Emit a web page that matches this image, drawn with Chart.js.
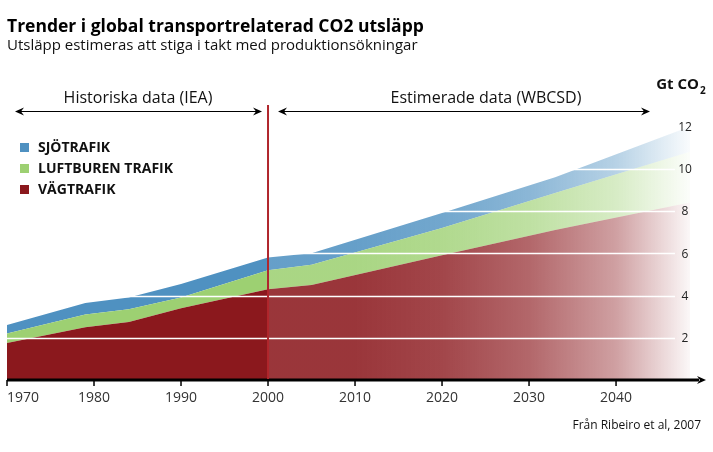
<!DOCTYPE html>
<html>
<head>
<meta charset="utf-8">
<script src="https://cdn.jsdelivr.net/npm/chart.js@4.4.1/dist/chart.umd.min.js"></script>
<style>
  html, body { margin: 0; padding: 0; background: #fff; }
  #wrap { width: 713px; height: 452px; }
</style>
</head>
<body>
<div id="wrap"><canvas id="co2" width="713" height="452"></canvas></div>
<script>
// år (x) och utsläpp per trafikslag, Gt CO2 (staplade)
const years = [1970, 1979, 1984, 1990, 2000, 2005, 2020, 2033, 2048.5];
const vagtrafik = [1.75, 2.5, 2.75, 3.4, 4.3, 4.5, 5.9, 7.1, 8.4];
const luftburen = [0.45, 0.6, 0.6, 0.5, 0.9, 0.95, 1.3, 1.75, 2.4];
const sjotrafik = [0.4, 0.55, 0.55, 0.65, 0.6, 0.55, 0.7, 0.75, 1.2];

const xTicks = [1970, 1980, 1990, 2000, 2010, 2020, 2030, 2040];
const yTicks = [2, 4, 6, 8, 10, 12];
const splitYear = 2000;

const FONT = '"Open Sans", "Noto Sans", sans-serif';

// toning mot vitt efter 2000 (år, alfa)
const fade = [[2000, 0.87], [2010, 0.87], [2020, 0.8], [2030, 0.66], [2040, 0.41], [2048.5, 0.03]];

function areaFill(rgb) {
   return (ctx) => {
      const chart = ctx.chart;
      const area = chart.chartArea;
      if (!area) return 'rgb(' + rgb + ')';
      const xs = chart.scales.x;
      const w = area.right - area.left;
      const pos = (yr) => Math.min(1, Math.max(0, (xs.getPixelForValue(yr) - area.left) / w));
      const g = chart.ctx.createLinearGradient(area.left, 0, area.right, 0);
      g.addColorStop(0, 'rgba(' + rgb + ',1)');
      g.addColorStop(pos(splitYear), 'rgba(' + rgb + ',1)');
      fade.forEach(([yr, a], i) => {
         g.addColorStop(Math.min(1, pos(yr) + (i === 0 ? 0.0005 : 0)), 'rgba(' + rgb + ',' + a + ')');
      });
      return g;
   };
}

function arrowHead(c, x, y, dir) {
   c.beginPath();
   c.moveTo(x, y);
   c.lineTo(x - dir * 9, y - 4);
   c.lineTo(x - dir * 6, y);
   c.lineTo(x - dir * 9, y + 4);
   c.closePath();
   c.fill();
}

const decor = {
   id: 'decor',
   afterDraw(chart) {
      const c = chart.ctx;
      const xs = chart.scales.x, ys = chart.scales.y;
      const area = chart.chartArea;
      c.save();

      // vita stödlinjer över ytorna
      c.strokeStyle = '#ffffff';
      c.lineWidth = 1.5;
      yTicks.forEach((v) => {
         const y = Math.round(ys.getPixelForValue(v)) + 0.5;
         c.beginPath();
         c.moveTo(area.left, y);
         c.lineTo(675, y);
         c.stroke();
      });

      // y-etiketter
      c.fillStyle = '#222';
      c.font = '12px ' + FONT;
      c.textAlign = 'center';
      c.textBaseline = 'middle';
      yTicks.forEach((v) => c.fillText(String(v), 685, ys.getPixelForValue(v) + 1));

      // x-axel med pil
      const y0 = ys.getPixelForValue(0);
      c.strokeStyle = '#000';
      c.fillStyle = '#000';
      c.lineWidth = 3;
      c.beginPath();
      c.moveTo(area.left, y0);
      c.lineTo(699, y0);
      c.stroke();
      arrowHead(c, 706, y0, 1);
      c.lineWidth = 1.5;
      xTicks.forEach((v) => {
         const x = xs.getPixelForValue(v);
         c.beginPath();
         c.moveTo(x, y0);
         c.lineTo(x, y0 + 6);
         c.stroke();
      });
      c.fillStyle = '#333';
      c.font = '14px ' + FONT;
      c.textBaseline = 'alphabetic';
      xTicks.forEach((v, i) => {
         const x = xs.getPixelForValue(v);
         c.textAlign = i === 0 ? 'left' : 'center';
         c.fillText(String(v), x, 402);
      });

      // delningslinje år 2000
      const xs2000 = xs.getPixelForValue(splitYear);
      c.strokeStyle = '#b0262c';
      c.lineWidth = 2;
      c.beginPath();
      c.moveTo(xs2000, 105);
      c.lineTo(xs2000, y0 - 1);
      c.stroke();

      // pilar för perioder
      c.strokeStyle = '#000';
      c.fillStyle = '#000';
      c.lineWidth = 1;
      [[15, xs2000 - 6], [xs2000 + 10, 650]].forEach(([a, b]) => {
         c.beginPath();
         c.moveTo(a + 4, 111.5);
         c.lineTo(b - 4, 111.5);
         c.stroke();
         arrowHead(c, a, 111.5, -1);
         arrowHead(c, b, 111.5, 1);
      });
      c.fillStyle = '#111';
      c.font = '16px ' + FONT;
      c.textAlign = 'center';
      c.fillText('Historiska data (IEA)', 138, 103);
      c.fillText('Estimerade data (WBCSD)', 486, 103);

      // enhet
      c.font = 'bold 15px ' + FONT;
      c.textAlign = 'right';
      c.fillText('Gt CO', 699, 89);
      c.font = 'bold 10px ' + FONT;
      c.textAlign = 'left';
      c.fillText('2', 700, 94);

      // förklaring
      const legend = [['SJÖTRAFIK', '#4f91c1'], ['LUFTBUREN TRAFIK', '#9dd072'], ['VÄGTRAFIK', '#8b181d']];
      c.font = 'bold 14px ' + FONT;
      legend.forEach(([t, col], i) => {
         const by = 151 + i * 21;
         c.fillStyle = col;
         c.fillRect(20, by - 8, 9, 9);
         c.fillStyle = '#111';
         c.fillText(t, 38, by + 1);
      });

      // rubriker och källa
      c.fillStyle = '#000';
      c.font = 'bold 17.5px ' + FONT;
      c.fillText('Trender i global transportrelaterad CO2 utsläpp', 7, 32);
      c.fillStyle = '#111';
      c.font = '15px ' + FONT;
      c.fillText('Utsläpp estimeras att stiga i takt med produktionsökningar', 7, 50);
      c.font = '12px ' + FONT;
      c.textAlign = 'right';
      c.fillText('Från Ribeiro et al, 2007', 701, 429);

      c.restore();
   }
};

const toPoints = (arr) => years.map((x, i) => ({ x, y: arr[i] }));

new Chart(document.getElementById('co2'), {
   type: 'line',
   data: {
      datasets: [
         {
            label: 'VÄGTRAFIK',
            data: toPoints(vagtrafik),
            backgroundColor: areaFill('139,24,29'),
            fill: 'origin',
            borderWidth: 0,
            pointRadius: 0,
            tension: 0
         },
         {
            label: 'LUFTBUREN TRAFIK',
            data: toPoints(luftburen),
            backgroundColor: areaFill('157,208,114'),
            fill: '-1',
            borderWidth: 0,
            pointRadius: 0,
            tension: 0
         },
         {
            label: 'SJÖTRAFIK',
            data: toPoints(sjotrafik),
            backgroundColor: areaFill('79,145,193'),
            fill: '-1',
            borderWidth: 0,
            pointRadius: 0,
            tension: 0
         }
      ]
   },
   options: {
      responsive: false,
      animation: false,
      layout: { padding: { left: 7, right: 23, top: 126.5, bottom: 72 } },
      plugins: { legend: { display: false }, tooltip: { enabled: false } },
      scales: {
         x: { type: 'linear', min: 1970, max: 2048.5, display: false },
         y: { stacked: true, min: 0, max: 12, display: false }
      }
   },
   plugins: [decor]
});
</script>
</body>
</html>
